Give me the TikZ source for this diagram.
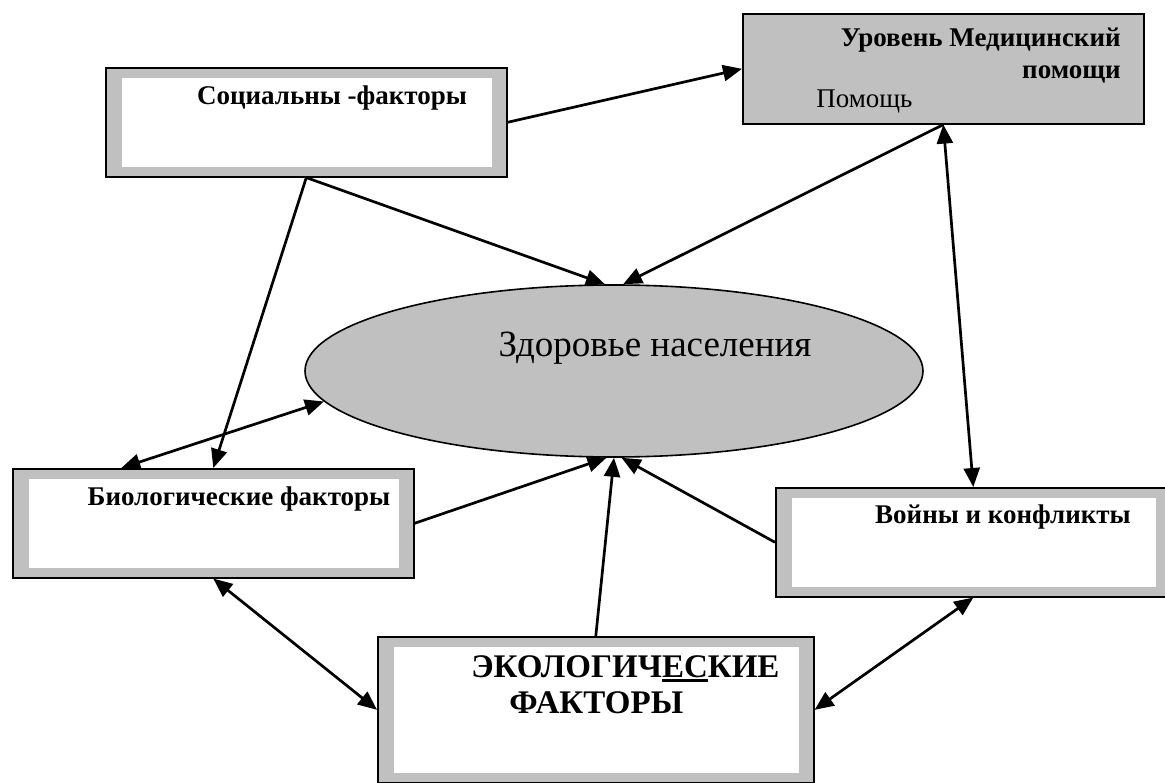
\documentclass[tikz,border=0pt]{standalone}
\usepackage{fontspec}
\setmainfont{Liberation Serif}
\usepackage{tikz}
\usetikzlibrary{arrows.meta,shapes.geometric}

\definecolor{boxgray}{HTML}{C0C0C0}
\newcommand{\thickul}[1]{\setbox0\hbox{#1}\rlap{\rule[-5pt]{\wd0}{3pt}}\box0}

\tikzset{
    frame/.style={draw, line width=1.6pt, fill=boxgray, anchor=north west, inner sep=0pt,
        path picture={\fill[white] ([xshift=16pt,yshift=-10pt]path picture bounding box.north west)
            rectangle ([xshift=-15pt,yshift=10pt]path picture bounding box.south east);}},
    plainframe/.style={draw, line width=1.6pt, fill=boxgray, anchor=north west, inner sep=0pt},
    boxtext/.style={inner sep=0pt, font=\fontsize{27}{30}\selectfont\bfseries},
    >={Triangle[length=19pt,width=16pt]}
}

\begin{document}
\begin{tikzpicture}[x=1pt, y=-1pt, line width=2.7pt]
                \useasboundingbox (0,0) rectangle (1165,783);
                % boxes
                \node[frame, minimum width=401pt, minimum height=109pt] (soc) at (105,67) {};
                \node[plainframe, minimum width=401pt, minimum height=110pt] (med) at (742,13) {};
                \node[frame, minimum width=401pt, minimum height=109pt] (bio) at (12,468) {};
                \node[frame, minimum width=395pt, minimum height=109pt] (war) at (775,487) {};
                \node[frame, minimum width=436pt, minimum height=146pt] (eco) at (377,636) {};
                \node[ellipse, draw, line width=1.6pt, fill=boxgray, minimum width=618pt, minimum height=172pt, inner sep=0pt] (health) at (614,371) {};
                % texts
                \node[boxtext, anchor=base] (soc-t) at (332,105) {Социальны -факторы};
                \node[boxtext, anchor=base east] (med-t1) at (1122,47) {Уровень Медицинский};
                \node[boxtext, anchor=base east] (med-t2) at (1122,79) {помощи};
                \node[inner sep=0pt, anchor=base west, font=\fontsize{27}{30}\selectfont] (med-t3) at (815,108) {Помощь};
                \node[boxtext, anchor=base] (bio-t) at (239,505) {Биологические факторы};
                \node[boxtext, anchor=base] (war-t) at (1003,523) {Войны и конфликты};
                \node[boxtext, anchor=base west, font=\fontsize{33}{36}\selectfont\bfseries] (eco-t1) at (470,677) {ЭКОЛОГИЧ\thickul{ЕС}КИЕ};
                \node[boxtext, anchor=base west, font=\fontsize{33}{36}\selectfont\bfseries] (eco-t2) at (508,713) {ФАКТОРЫ};
                \node[inner sep=0pt, anchor=base, font=\fontsize{37}{40}\selectfont] (health-t) at (655,357) {Здоровье населения};
                % connectors
                \draw[->] (soc.east) -- (med.west);
                \draw[->] (soc.south) -- (bio.north);
                \draw[->] (soc.south) -- (health.96);
                \draw[->] (med.south) -- (health.84);
                \draw[<->] (med.south) -- (war.north);
                \draw[<->] (bio.149) -- (health.186);
                \draw[->] (bio.east) -- (health.-95);
                \draw[->] (eco.north) -- (health.-90);
                \draw[->] (war.west) -- (health.-85);
                \draw[<->] (bio.south) -- (eco.west);
                \draw[<->] (eco.east) -- (war.south);
            \end{tikzpicture}
\end{document}
